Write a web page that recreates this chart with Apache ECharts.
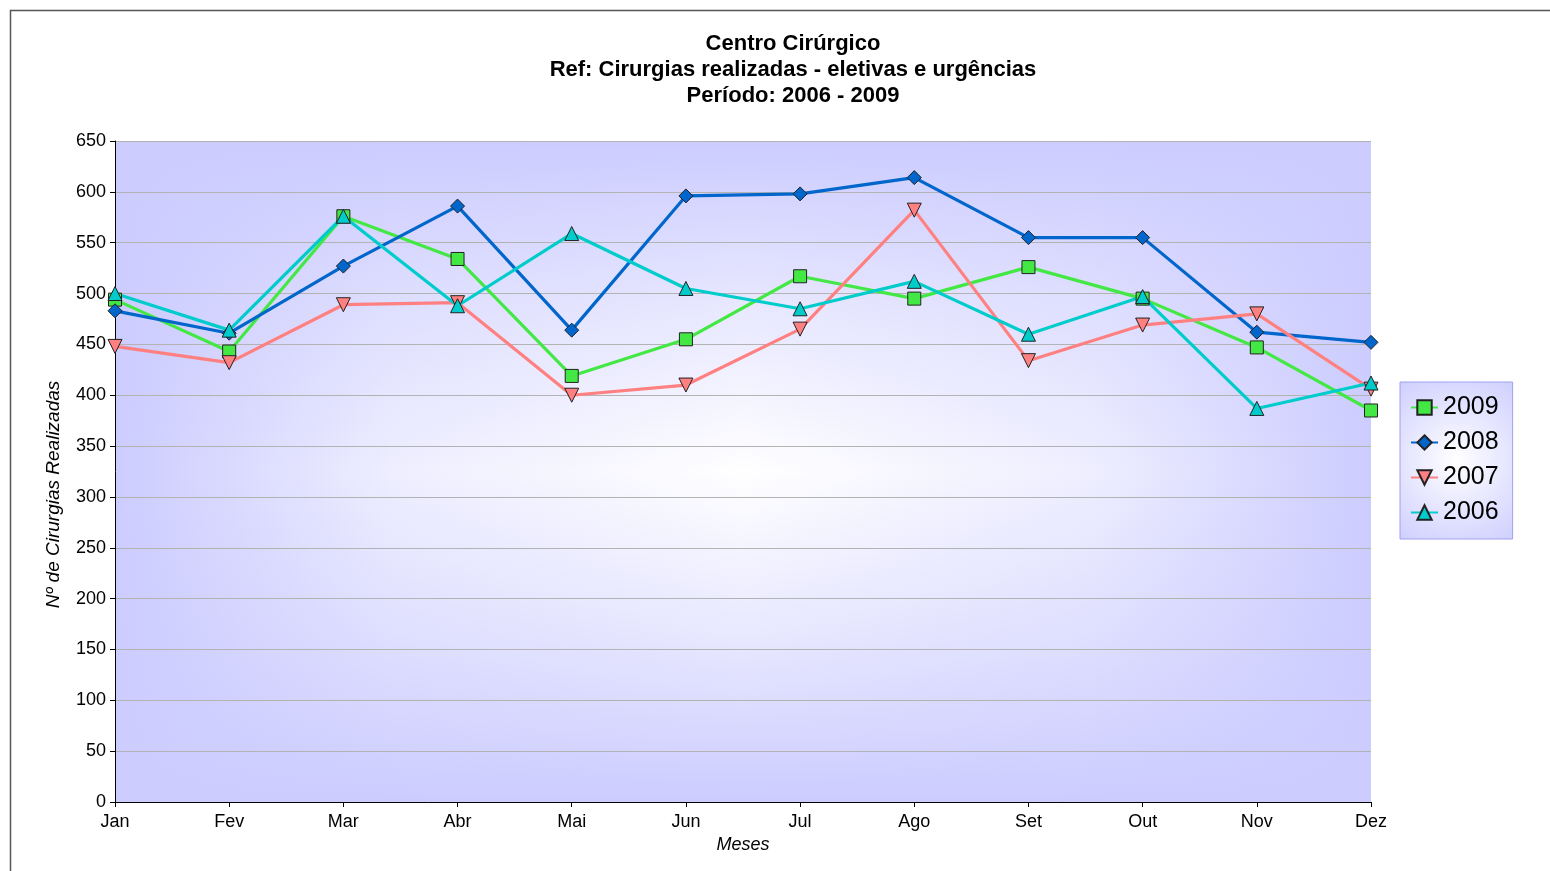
<!DOCTYPE html>
<html>
<head>
<meta charset="utf-8">
<title>Centro Cirúrgico</title>
<script src="https://cdn.jsdelivr.net/npm/echarts@6/dist/echarts.min.js"></script>
<style>
  html, body { margin: 0; padding: 0; background: #fff; }
  #chart { width: 1550px; height: 871px; }
</style>
</head>
<body>
<div id="chart"></div>
<script>
// meses e valores
const meses = ['Jan', 'Fev', 'Mar', 'Abr', 'Mai', 'Jun', 'Jul', 'Ago', 'Set', 'Out', 'Nov', 'Dez']
const dados2009 = [494, 443, 576, 534, 419, 455, 517, 495, 526, 495, 447, 385]
const dados2008 = [483, 461, 527, 586, 464, 596, 598, 614, 555, 555, 462, 452]
const dados2007 = [448, 432, 489, 491, 400, 410, 465, 582, 434, 469, 480, 406]
const dados2006 = [500, 464, 576, 488, 559, 505, 485, 512, 460, 497, 387, 412]

const lavanda = '#ccccff'
const fonte = '"Liberation Sans", Arial, sans-serif'

// área do gráfico (pixels)
const grade = { left: 115, top: 141, width: 1256, height: 661 }

const chart = echarts.init(document.getElementById('chart'))

const serie = (name, data, color, symbol, size, rotate) => ({
  name,
  type: 'line',
  data,
  symbol,
  symbolSize: size,
  symbolRotate: rotate || 0,
  showAllSymbol: true,
  lineStyle: { color, width: 3.2 },
  itemStyle: { color, borderColor: '#222', borderWidth: 1 },
  emphasis: { disabled: true }
})

const option = {
  backgroundColor: '#fff',
  animation: false,
  title: {
    text: 'Centro Cirúrgico\nRef: Cirurgias realizadas - eletivas e urgências\nPeríodo: 2006 - 2009',
    left: 793,
    top: 31,
    padding: 0,
    textAlign: 'center',
    textStyle: {
      fontFamily: fonte,
      fontSize: 22,
      fontWeight: 'bold',
      color: '#000',
      lineHeight: 26
    }
  },
  graphic: [
    // moldura externa
    {
      type: 'rect',
      z: -20,
      silent: true,
      shape: { x: 10.5, y: 10.5, width: 1600, height: 900 },
      style: { fill: '#fff', stroke: '#555', lineWidth: 1.5 }
    },
    // fundo em degradê da área do gráfico
    {
      type: 'rect',
      z: -10,
      silent: true,
      shape: { x: grade.left, y: grade.top, width: grade.width, height: grade.height },
      style: {
        fill: new echarts.graphic.LinearGradient(0, 0, 1, 0, [
          { offset: 0, color: lavanda },
          { offset: 0.22, color: '#eeeeff' },
          { offset: 0.5, color: '#ffffff' },
          { offset: 0.78, color: '#eeeeff' },
          { offset: 1, color: lavanda }
        ])
      }
    },
    {
      type: 'rect',
      z: -9,
      silent: true,
      shape: { x: grade.left, y: grade.top, width: grade.width, height: grade.height },
      style: {
        fill: new echarts.graphic.LinearGradient(0, 0, 0, 1, [
          { offset: 0, color: 'rgba(204,204,255,1)' },
          { offset: 0.25, color: 'rgba(204,204,255,0.45)' },
          { offset: 0.5, color: 'rgba(204,204,255,0)' },
          { offset: 0.75, color: 'rgba(204,204,255,0.45)' },
          { offset: 1, color: 'rgba(204,204,255,1)' }
        ])
      }
    }
  ],
  legend: {
    orient: 'vertical',
    left: 1400,
    top: 382,
    padding: [13, 14, 14, 10],
    itemGap: 10,
    itemWidth: 27,
    itemHeight: 18,
    borderColor: '#a0a0f0',
    borderWidth: 1,
    backgroundColor: new echarts.graphic.RadialGradient(0.5, 0.5, 0.9, [
      { offset: 0, color: '#ffffff' },
      { offset: 1, color: lavanda }
    ]),
    textStyle: { fontFamily: fonte, fontSize: 25, color: '#000' },
    data: ['2009', '2008', '2007', '2006']
  },
  grid: {
    left: grade.left,
    top: grade.top,
    width: grade.width,
    height: grade.height,
    show: false
  },
  xAxis: {
    type: 'category',
    data: meses,
    boundaryGap: false,
    name: 'Meses',
    nameLocation: 'middle',
    nameGap: 34,
    nameTextStyle: { fontFamily: fonte, fontSize: 18, fontStyle: 'italic', color: '#000' },
    axisLine: { lineStyle: { color: '#000', width: 1 } },
    axisTick: { show: true, length: 5, alignWithLabel: true, lineStyle: { color: '#000' } },
    axisLabel: { fontFamily: fonte, fontSize: 18, color: '#000', margin: 11, interval: 0 },
    splitLine: { show: false }
  },
  yAxis: {
    type: 'value',
    min: 0,
    max: 650,
    interval: 50,
    name: 'Nº de Cirurgias Realizadas',
    nameLocation: 'middle',
    nameGap: 52,
    nameTextStyle: {
      fontFamily: fonte,
      fontSize: 19,
      fontStyle: 'italic',
      color: '#000',
      padding: [0, 46, 0, 0]
    },
    axisLine: { show: true, lineStyle: { color: '#000', width: 1 } },
    axisTick: { show: true, length: 5, lineStyle: { color: '#000' } },
    axisLabel: { fontFamily: fonte, fontSize: 18, color: '#000', margin: 9 },
    splitLine: { show: true, lineStyle: { color: '#b3b3b3', width: 1 } }
  },
  series: [
    serie('2009', dados2009, '#44e844', 'rect', 13),
    serie('2008', dados2008, '#0066cc', 'diamond', 14),
    serie('2007', dados2007, '#ff8080', 'triangle', 14, 180),
    serie('2006', dados2006, '#00cccc', 'triangle', 14)
  ]
}

chart.setOption(option)
</script>
</body>
</html>
